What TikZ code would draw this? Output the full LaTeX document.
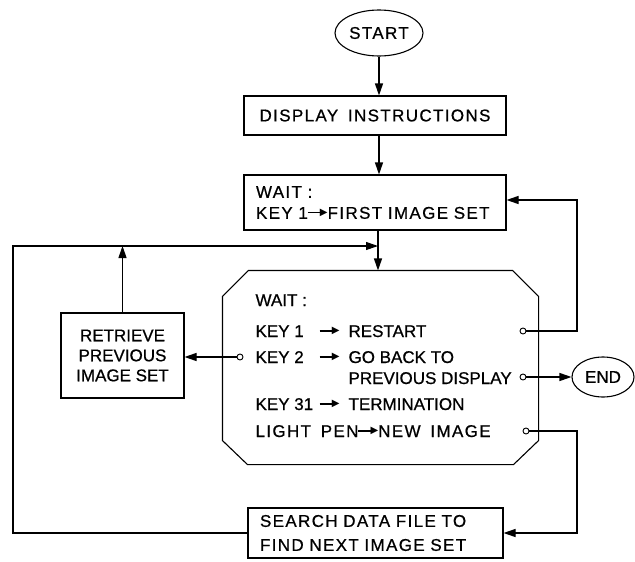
\documentclass[tikz,border=0pt]{standalone}
\usepackage{fontspec}
\setmainfont{Liberation Sans}[FakeBold=0.7]
\newfontfamily\wide{Liberation Sans}[LetterSpace=8,WordSpace=1.6,FakeBold=0.7]
\newfontfamily\dejavu{DejaVu Sans}
\usetikzlibrary{arrows.meta,calc,shapes.geometric}
\newcommand{\tarr}{\raisebox{1.8pt}{$\vcenter{\hrule width 15pt height 1.3pt}\mkern-3mu\vcenter{\hbox{\dejavu\fontsize{10}{10}\selectfont ▶}}$}}
\begin{document}
\begin{tikzpicture}[x=1pt,y=-1pt,line width=1.1pt,
  arr/.style={-{Triangle[length=12pt,width=8pt]}},
  box/.style={draw,rectangle,inner sep=0pt},
  txt/.style={anchor=base west,inner sep=0pt},
  port/.style={circle,draw,line width=0.9pt,minimum size=6pt,inner sep=0pt},
  every node/.style={font=\fontsize{17}{20}\selectfont}]
\useasboundingbox (0,0) rectangle (635,562);

% nodes
\node[draw,ellipse,minimum width=88pt,minimum height=46pt,inner sep=0pt,font=\fontsize{17}{20}\selectfont\wide] (start) at (379,33) {START};
\node[box,minimum width=262pt,minimum height=39pt,font=\fontsize{17}{20}\selectfont\wide] (disp) at (375,115.5) {DISPLAY INSTRUCTIONS};
\node[box,minimum height=55pt,text width=238pt,inner xsep=12pt,align=left,font=\fontsize{17}{21}\selectfont\wide] (wait) at (375,202.5) {WAIT :\\KEY 1\tarr FIRST IMAGE SET};

\node[minimum width=315pt,minimum height=193pt,inner sep=0pt] (oct) at (380.5,367.5) {};
\draw ($(oct.north west)+(26,0)$) -- ($(oct.north east)+(-26,0)$) -- ($(oct.north east)+(0,26)$)
  -- ($(oct.south east)+(0,-24)$) -- ($(oct.south east)+(-25,0)$) -- ($(oct.south west)+(25,0)$)
  -- ($(oct.south west)+(0,-24)$) -- ($(oct.north west)+(0,26)$) -- cycle;

\node[txt] (w0) at (255,306) {WAIT :};
\node[txt] (w1) at (255,337) {\makebox[93pt][l]{KEY 1\hfill\tarr\hspace{9pt}}RESTART};
\node[txt] (w2) at (255,363) {\makebox[93pt][l]{KEY 2\hfill\tarr\hspace{9pt}}GO BACK TO};
\node[txt] (w3) at (348,384) {PREVIOUS DISPLAY};
\node[txt] (w4) at (255,410) {\makebox[93pt][l]{KEY 31\hfill\tarr\hspace{9pt}}TERMINATION};
\node[txt] (w5) at (255,437) {\wide LIGHT PEN\tarr NEW IMAGE};

\node[port] (c1) at (523,331) {};
\node[port] (c2) at (240,357) {};
\node[port] (c3) at (523,377) {};
\node[port] (c4) at (526,431) {};

\node[box,minimum width=123pt,minimum height=85pt,align=center] (retr) at (122.5,355.5) {RETRIEVE\\PREVIOUS\\IMAGE SET};
\node[box,minimum height=50pt,text width=231pt,inner xsep=12pt,align=left,font=\fontsize{17}{24}\selectfont\wide] (search) at (375.5,533) {SEARCH DATA FILE TO\\FIND NEXT IMAGE SET};
\node[draw,ellipse,minimum width=62pt,minimum height=40pt,inner sep=0pt] (end) at (603,377) {END};

% helper coordinates
\coordinate (spine) at (378,0);
\coordinate (jn) at (378,246);
\coordinate (ltop) at (13,246);
\coordinate (rr) at (577,200);
\coordinate (rb) at (577,533);

% connectors
\draw[arr] (start.south) -- (start.south |- disp.north);
\draw[arr] (disp.south -| start.south) -- (start.south |- wait.north);
\draw[arr] (spine |- wait.south) -- (spine |- oct.north);
\draw[arr] (search.west) -| (ltop) -- (jn);
\draw[arr] (retr.north) -- (retr.north |- jn);
\draw[arr] (c2.west) -- (retr.east |- c2);
\draw[arr] (c1.east) -| (rr) -- (wait.east |- rr);
\draw[arr] (c3.east) -- (end.west);
\draw[arr] (c4.east) -| (rb) -- (search.east);
\end{tikzpicture}
\end{document}
